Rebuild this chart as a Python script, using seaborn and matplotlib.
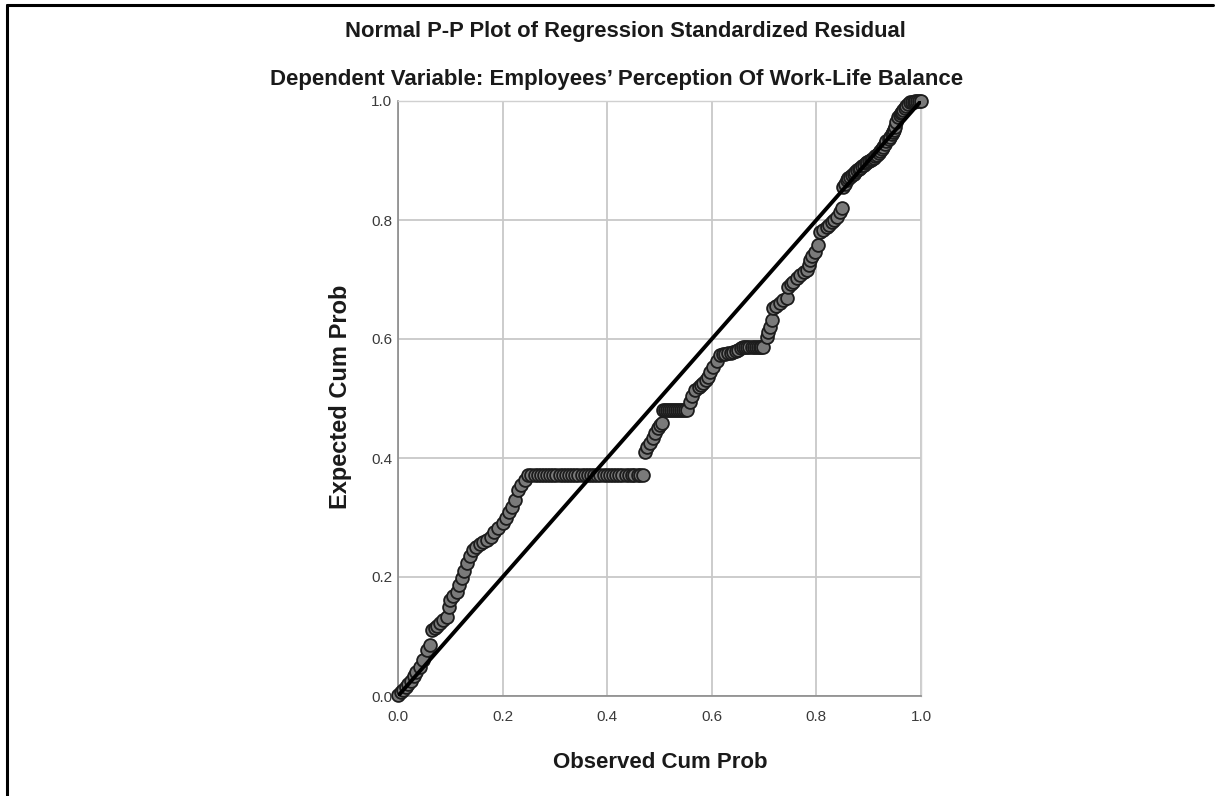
import matplotlib
matplotlib.use("Agg")
import matplotlib.pyplot as plt
import seaborn as sns
import pandas as pd
from matplotlib.lines import Line2D

# ---- data ----
observed_cum_prob = [
    0.000, 0.005, 0.010, 0.015, 0.020, 0.025, 0.030, 0.035, 0.042, 0.048, 0.055, 0.061,
    0.065, 0.070, 0.075, 0.080, 0.086, 0.093, 0.097, 0.100, 0.106, 0.112, 0.117, 0.122,
    0.127, 0.132, 0.138, 0.144, 0.150, 0.157, 0.163, 0.170, 0.177, 0.184, 0.192, 0.200,
    0.207, 0.213, 0.218, 0.223, 0.229, 0.236, 0.243, 0.249,
    0.255, 0.261, 0.267, 0.273, 0.279, 0.285, 0.291, 0.297, 0.303, 0.309, 0.315, 0.321,
    0.327, 0.333, 0.339, 0.345, 0.351, 0.357, 0.363, 0.369, 0.375, 0.381, 0.387, 0.393,
    0.399, 0.405, 0.411, 0.417, 0.423, 0.429, 0.435, 0.441, 0.447, 0.452, 0.458, 0.463, 0.468,
    0.472, 0.477, 0.482, 0.487, 0.492, 0.497, 0.501, 0.505,
    0.507, 0.511, 0.515, 0.519, 0.522, 0.526, 0.530, 0.534, 0.537, 0.541, 0.545, 0.549, 0.552,
    0.558, 0.563, 0.568, 0.575, 0.579, 0.583, 0.588, 0.593, 0.597, 0.602, 0.609, 0.616,
    0.621, 0.626, 0.631, 0.636, 0.641, 0.646, 0.650, 0.655, 0.660, 0.664, 0.668, 0.672,
    0.676, 0.680, 0.684, 0.688, 0.692, 0.695, 0.698,
    0.705, 0.708, 0.711, 0.715, 0.717, 0.723, 0.730, 0.737, 0.744, 0.746, 0.751, 0.755,
    0.762, 0.769, 0.776, 0.782, 0.785, 0.788, 0.792, 0.797, 0.803, 0.807, 0.813, 0.820,
    0.825, 0.829, 0.834, 0.839, 0.845, 0.849,
    0.851, 0.855, 0.858, 0.861, 0.864, 0.868, 0.871, 0.874, 0.877, 0.881, 0.884, 0.888,
    0.891, 0.894, 0.897, 0.901, 0.904, 0.907, 0.910, 0.913, 0.916, 0.919, 0.922, 0.925,
    0.927, 0.931, 0.934, 0.938, 0.941, 0.944, 0.946, 0.948, 0.950, 0.953, 0.956, 0.959,
    0.962, 0.964, 0.966, 0.969, 0.972, 0.976, 0.979, 0.983, 0.986, 0.989, 0.992, 0.996, 1.000,
]
expected_cum_prob = [
    0.002, 0.006, 0.010, 0.015, 0.020, 0.026, 0.033, 0.040, 0.049, 0.060, 0.077, 0.086,
    0.111, 0.115, 0.118, 0.122, 0.127, 0.133, 0.150, 0.161, 0.168, 0.175, 0.187, 0.198,
    0.210, 0.223, 0.235, 0.245, 0.250, 0.255, 0.259, 0.262, 0.268, 0.275, 0.282, 0.290,
    0.300, 0.310, 0.318, 0.330, 0.346, 0.355, 0.363, 0.371,
    0.371, 0.371, 0.371, 0.371, 0.371, 0.371, 0.371, 0.371, 0.371, 0.371, 0.371, 0.371,
    0.371, 0.371, 0.371, 0.371, 0.371, 0.371, 0.371, 0.371, 0.371, 0.371, 0.371, 0.371,
    0.371, 0.371, 0.371, 0.371, 0.371, 0.371, 0.371, 0.371, 0.371, 0.371, 0.371, 0.371, 0.371,
    0.410, 0.418, 0.426, 0.434, 0.442, 0.450, 0.455, 0.459,
    0.481, 0.481, 0.481, 0.481, 0.481, 0.481, 0.481, 0.481, 0.481, 0.481, 0.481, 0.481, 0.481,
    0.494, 0.504, 0.514, 0.520, 0.523, 0.526, 0.531, 0.536, 0.545, 0.553, 0.563, 0.573,
    0.575, 0.575, 0.576, 0.577, 0.578, 0.580, 0.582, 0.585, 0.587, 0.587, 0.587, 0.587,
    0.587, 0.587, 0.587, 0.587, 0.587, 0.587, 0.587,
    0.603, 0.611, 0.620, 0.632, 0.652, 0.656, 0.660, 0.665, 0.669, 0.687, 0.692, 0.696,
    0.702, 0.708, 0.712, 0.716, 0.725, 0.733, 0.740, 0.746, 0.758, 0.780, 0.784, 0.788,
    0.792, 0.796, 0.800, 0.805, 0.813, 0.820,
    0.855, 0.861, 0.867, 0.870, 0.872, 0.875, 0.878, 0.881, 0.884, 0.886, 0.888, 0.891,
    0.893, 0.895, 0.897, 0.899, 0.901, 0.903, 0.905, 0.907, 0.909, 0.913, 0.916, 0.920,
    0.923, 0.927, 0.932, 0.936, 0.940, 0.944, 0.948, 0.952, 0.956, 0.964, 0.973, 0.976,
    0.979, 0.982, 0.985, 0.988, 0.991, 0.995, 0.998, 0.999, 0.999, 1.000, 1.000, 1.000, 1.000,
]
reference_x = [0.0, 1.0]
reference_y = [0.0, 1.0]
tick_values = [0.0, 0.2, 0.4, 0.6, 0.8, 1.0]
tick_labels = ["0.0", "0.2", "0.4", "0.6", "0.8", "1.0"]

title_text = "Normal P-P Plot of Regression Standardized Residual"
subtitle_text = "Dependent Variable: Employees\u2019 Perception Of Work-Life Balance"
x_label = "Observed Cum Prob"
y_label = "Expected Cum Prob"

# ---- styling ----
sns.set_theme(style="white")
plt.rcParams["font.family"] = ["Liberation Sans", "DejaVu Sans"]

W, H = 1215, 796
fig = plt.figure(figsize=(W / 100, H / 100), dpi=100)
fig.patch.set_facecolor("white")

x0, x1, ytop, ybot = 398, 921, 101, 696
ax = fig.add_axes([x0 / W, 1 - ybot / H, (x1 - x0) / W, (ybot - ytop) / H])
ax.set_facecolor("white")

df = pd.DataFrame({"obs": observed_cum_prob, "exp": expected_cum_prob})
ref = pd.DataFrame({"x": reference_x, "y": reference_y})

ax.set_xlim(0, 1)
ax.set_ylim(0, 1)
ax.set_xticks(tick_values)
ax.set_xticklabels(tick_labels)
ax.set_yticks(tick_values)
ax.set_yticklabels(tick_labels)
ax.grid(True, color="#c8c8c8", linewidth=1.3, zorder=0)
ax.set_axisbelow(True)

sns.scatterplot(data=df, x="obs", y="exp", ax=ax, s=85, color="#7a7a7a",
                edgecolor="#1c1c1c", linewidth=1.3, zorder=3, clip_on=False, legend=False)
sns.lineplot(data=ref, x="x", y="y", ax=ax, color="black", linewidth=2.8, zorder=4)

for side in ["top", "right"]:
    ax.spines[side].set_color("#d0d0d0")
    ax.spines[side].set_linewidth(1.0)
for side in ["left", "bottom"]:
    ax.spines[side].set_color("#8a8a8a")
    ax.spines[side].set_linewidth(1.2)

ax.tick_params(axis="x", length=0, labelsize=11, labelcolor="#3a3a3a", pad=10)
ax.tick_params(axis="y", length=0, labelsize=11, labelcolor="#3a3a3a", pad=4)
ax.set_xlabel("")
ax.set_ylabel("")

fig.text(625 / W, 1 - 32 / H, title_text, ha="center", va="center",
         fontsize=15.8, fontweight="bold", color="#1a1a1a")
fig.text(617 / W, 1 - 80 / H, subtitle_text, ha="center", va="center",
         fontsize=16.0, fontweight="bold", color="#1a1a1a")
fig.text(660 / W, 1 - 763 / H, x_label, ha="center", va="center",
         fontsize=16, fontweight="bold", color="#1a1a1a")
fig.text(341 / W, 1 - 397 / H, y_label, ha="center", va="center", rotation=90,
         fontsize=17, fontweight="bold", color="#1a1a1a")

# outer frame (left and top edges)
fig.add_artist(Line2D([7 / W, 7 / W], [0, 1 - 5 / H], transform=fig.transFigure,
                      color="black", linewidth=2.2))
fig.add_artist(Line2D([7 / W, 1213 / W], [1 - 5 / H, 1 - 5 / H], transform=fig.transFigure,
                      color="black", linewidth=2.2))

fig.savefig("out.png", dpi=100, facecolor="white")
